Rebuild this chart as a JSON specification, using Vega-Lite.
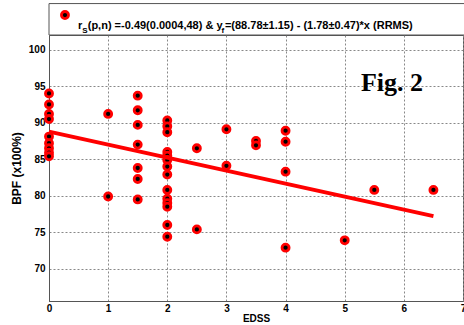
{
  "$schema": "https://vega.github.io/schema/vega-lite/v6.json",
  "width": 414,
  "height": 266,
  "autosize": "none",
  "padding": {"left": 49, "top": 35, "right": 1, "bottom": 24},
  "background": "white",
  "config": {
    "view": {"stroke": "#555555", "strokeWidth": 1},
    "axis": {
      "labelFont": "Liberation Sans", "labelFontWeight": "bold", "labelFontSize": 10, "labelColor": "black",
      "titleFont": "Liberation Sans", "titleFontWeight": "bold", "titleFontSize": 11, "titleColor": "black",
      "domainColor": "#555555", "tickSize": 0,
      "gridColor": "#888888", "gridDash": [2, 2], "gridWidth": 1, "gridOpacity": 1
    }
  },
  "datasets": {
    "points": [
      {"EDSS": 0, "BPF": 94.0}, {"EDSS": 0, "BPF": 92.5}, {"EDSS": 0, "BPF": 91.2}, {"EDSS": 0, "BPF": 90.5},
      {"EDSS": 0, "BPF": 88.1}, {"EDSS": 0, "BPF": 87.2}, {"EDSS": 0, "BPF": 86.5}, {"EDSS": 0, "BPF": 85.9}, {"EDSS": 0, "BPF": 85.4},
      {"EDSS": 1, "BPF": 91.2}, {"EDSS": 1, "BPF": 79.9},
      {"EDSS": 1.5, "BPF": 93.7}, {"EDSS": 1.5, "BPF": 91.7}, {"EDSS": 1.5, "BPF": 89.7}, {"EDSS": 1.5, "BPF": 87.0},
      {"EDSS": 1.5, "BPF": 83.8}, {"EDSS": 1.5, "BPF": 82.3}, {"EDSS": 1.5, "BPF": 79.5},
      {"EDSS": 2, "BPF": 90.3}, {"EDSS": 2, "BPF": 89.5}, {"EDSS": 2, "BPF": 88.7}, {"EDSS": 2, "BPF": 86.0},
      {"EDSS": 2, "BPF": 85.5}, {"EDSS": 2, "BPF": 84.9}, {"EDSS": 2, "BPF": 84.0}, {"EDSS": 2, "BPF": 82.9},
      {"EDSS": 2, "BPF": 80.8}, {"EDSS": 2, "BPF": 79.6}, {"EDSS": 2, "BPF": 79.0}, {"EDSS": 2, "BPF": 78.5},
      {"EDSS": 2, "BPF": 76.0}, {"EDSS": 2, "BPF": 74.4},
      {"EDSS": 2.5, "BPF": 86.5}, {"EDSS": 2.5, "BPF": 75.4},
      {"EDSS": 3, "BPF": 89.1}, {"EDSS": 3, "BPF": 84.1},
      {"EDSS": 3.5, "BPF": 87.5}, {"EDSS": 3.5, "BPF": 86.9},
      {"EDSS": 4, "BPF": 88.9}, {"EDSS": 4, "BPF": 87.4}, {"EDSS": 4, "BPF": 83.3}, {"EDSS": 4, "BPF": 72.9},
      {"EDSS": 5, "BPF": 73.9}, {"EDSS": 5.5, "BPF": 80.8}, {"EDSS": 6.5, "BPF": 80.8}
    ],
    "fit": [{"EDSS": 0, "BPF": 88.78}, {"EDSS": 6.5, "BPF": 77.21}]
  },
  "layer": [
    {
      "data": {"name": "points"},
      "mark": {"type": "point", "opacity": 0},
      "encoding": {
        "x": {"field": "EDSS", "type": "quantitative", "scale": {"domain": [0, 7], "nice": false, "zero": false},
              "axis": {"title": "EDSS", "values": [0, 1, 2, 3, 4, 5, 6, 7], "format": "d", "labelPadding": 2, "titlePadding": 0, "titleFontSize": 10, "labelFlush": false, "labelOverlap": false}},
        "y": {"field": "BPF", "type": "quantitative", "scale": {"domain": [65.6, 102], "nice": false, "zero": false},
              "axis": {"title": "BPF (x100%)", "values": [70, 75, 80, 85, 90, 95, 100], "format": "d", "labelPadding": 4, "titlePadding": 5, "titleFontSize": 12, "labelFlush": false, "labelOverlap": false}}
      }
    },
    {
      "data": {"name": "points"},
      "mark": {"type": "point", "filled": false, "fill": "black", "fillOpacity": 1, "stroke": "#ff0000", "strokeWidth": 2.8, "size": 50, "opacity": 1},
      "encoding": {
        "x": {"field": "EDSS", "type": "quantitative"},
        "y": {"field": "BPF", "type": "quantitative"}
      }
    },
    {
      "data": {"name": "fit"},
      "mark": {"type": "line", "color": "#ff0000", "strokeWidth": 4},
      "encoding": {
        "x": {"field": "EDSS", "type": "quantitative"},
        "y": {"field": "BPF", "type": "quantitative"}
      }
    },
    {
      "data": {"values": [{"label": "Fig. 2"}]},
      "mark": {"type": "text", "font": "Liberation Serif", "fontWeight": "bold", "fontSize": 26, "color": "black", "align": "center", "baseline": "middle"},
      "encoding": {
        "x": {"datum": 5.8, "type": "quantitative"},
        "y": {"datum": 95.4, "type": "quantitative"},
        "text": {"field": "label"}
      }
    },
    {
      "data": {"values": [{"box": "legend"}]},
      "mark": {"type": "rect", "fill": "white", "stroke": "#555555", "strokeWidth": 1, "clip": false},
      "encoding": {
        "x": {"datum": 0, "type": "quantitative"},
        "x2": {"datum": 7.2},
        "y": {"datum": 102, "type": "quantitative"},
        "y2": {"datum": 106.3}
      }
    },
    {
      "data": {"values": [{"box": "legend"}]},
      "mark": {"type": "point", "filled": false, "fill": "black", "fillOpacity": 1, "stroke": "#ff0000", "strokeWidth": 2.8, "size": 50, "clip": false},
      "encoding": {
        "x": {"datum": 0.27, "type": "quantitative"},
        "y": {"datum": 104.73, "type": "quantitative"}
      }
    },
    {
      "data": {"values": [
        {"piece": "r", "px": 0.49, "py": 102.8},
        {"piece": "(p,n) =-0.49(0.0004,48) & y", "px": 0.655, "py": 102.8},
        {"piece": "=(88.78±1.15) - (1.78±0.47)*x (RRMS)", "px": 2.974, "py": 102.8}
      ]},
      "mark": {"type": "text", "font": "Liberation Sans", "fontWeight": "bold", "fontSize": 11, "color": "black", "align": "left", "baseline": "alphabetic", "clip": false},
      "encoding": {
        "x": {"field": "px", "type": "quantitative"},
        "y": {"field": "py", "type": "quantitative"},
        "text": {"field": "piece"}
      }
    },
    {
      "data": {"values": [
        {"piece": "S", "px": 0.563, "py": 102.3},
        {"piece": "f", "px": 2.915, "py": 102.3}
      ]},
      "mark": {"type": "text", "font": "Liberation Sans", "fontWeight": "bold", "fontSize": 8, "color": "black", "align": "left", "baseline": "alphabetic", "clip": false},
      "encoding": {
        "x": {"field": "px", "type": "quantitative"},
        "y": {"field": "py", "type": "quantitative"},
        "text": {"field": "piece"}
      }
    }
  ]
}
